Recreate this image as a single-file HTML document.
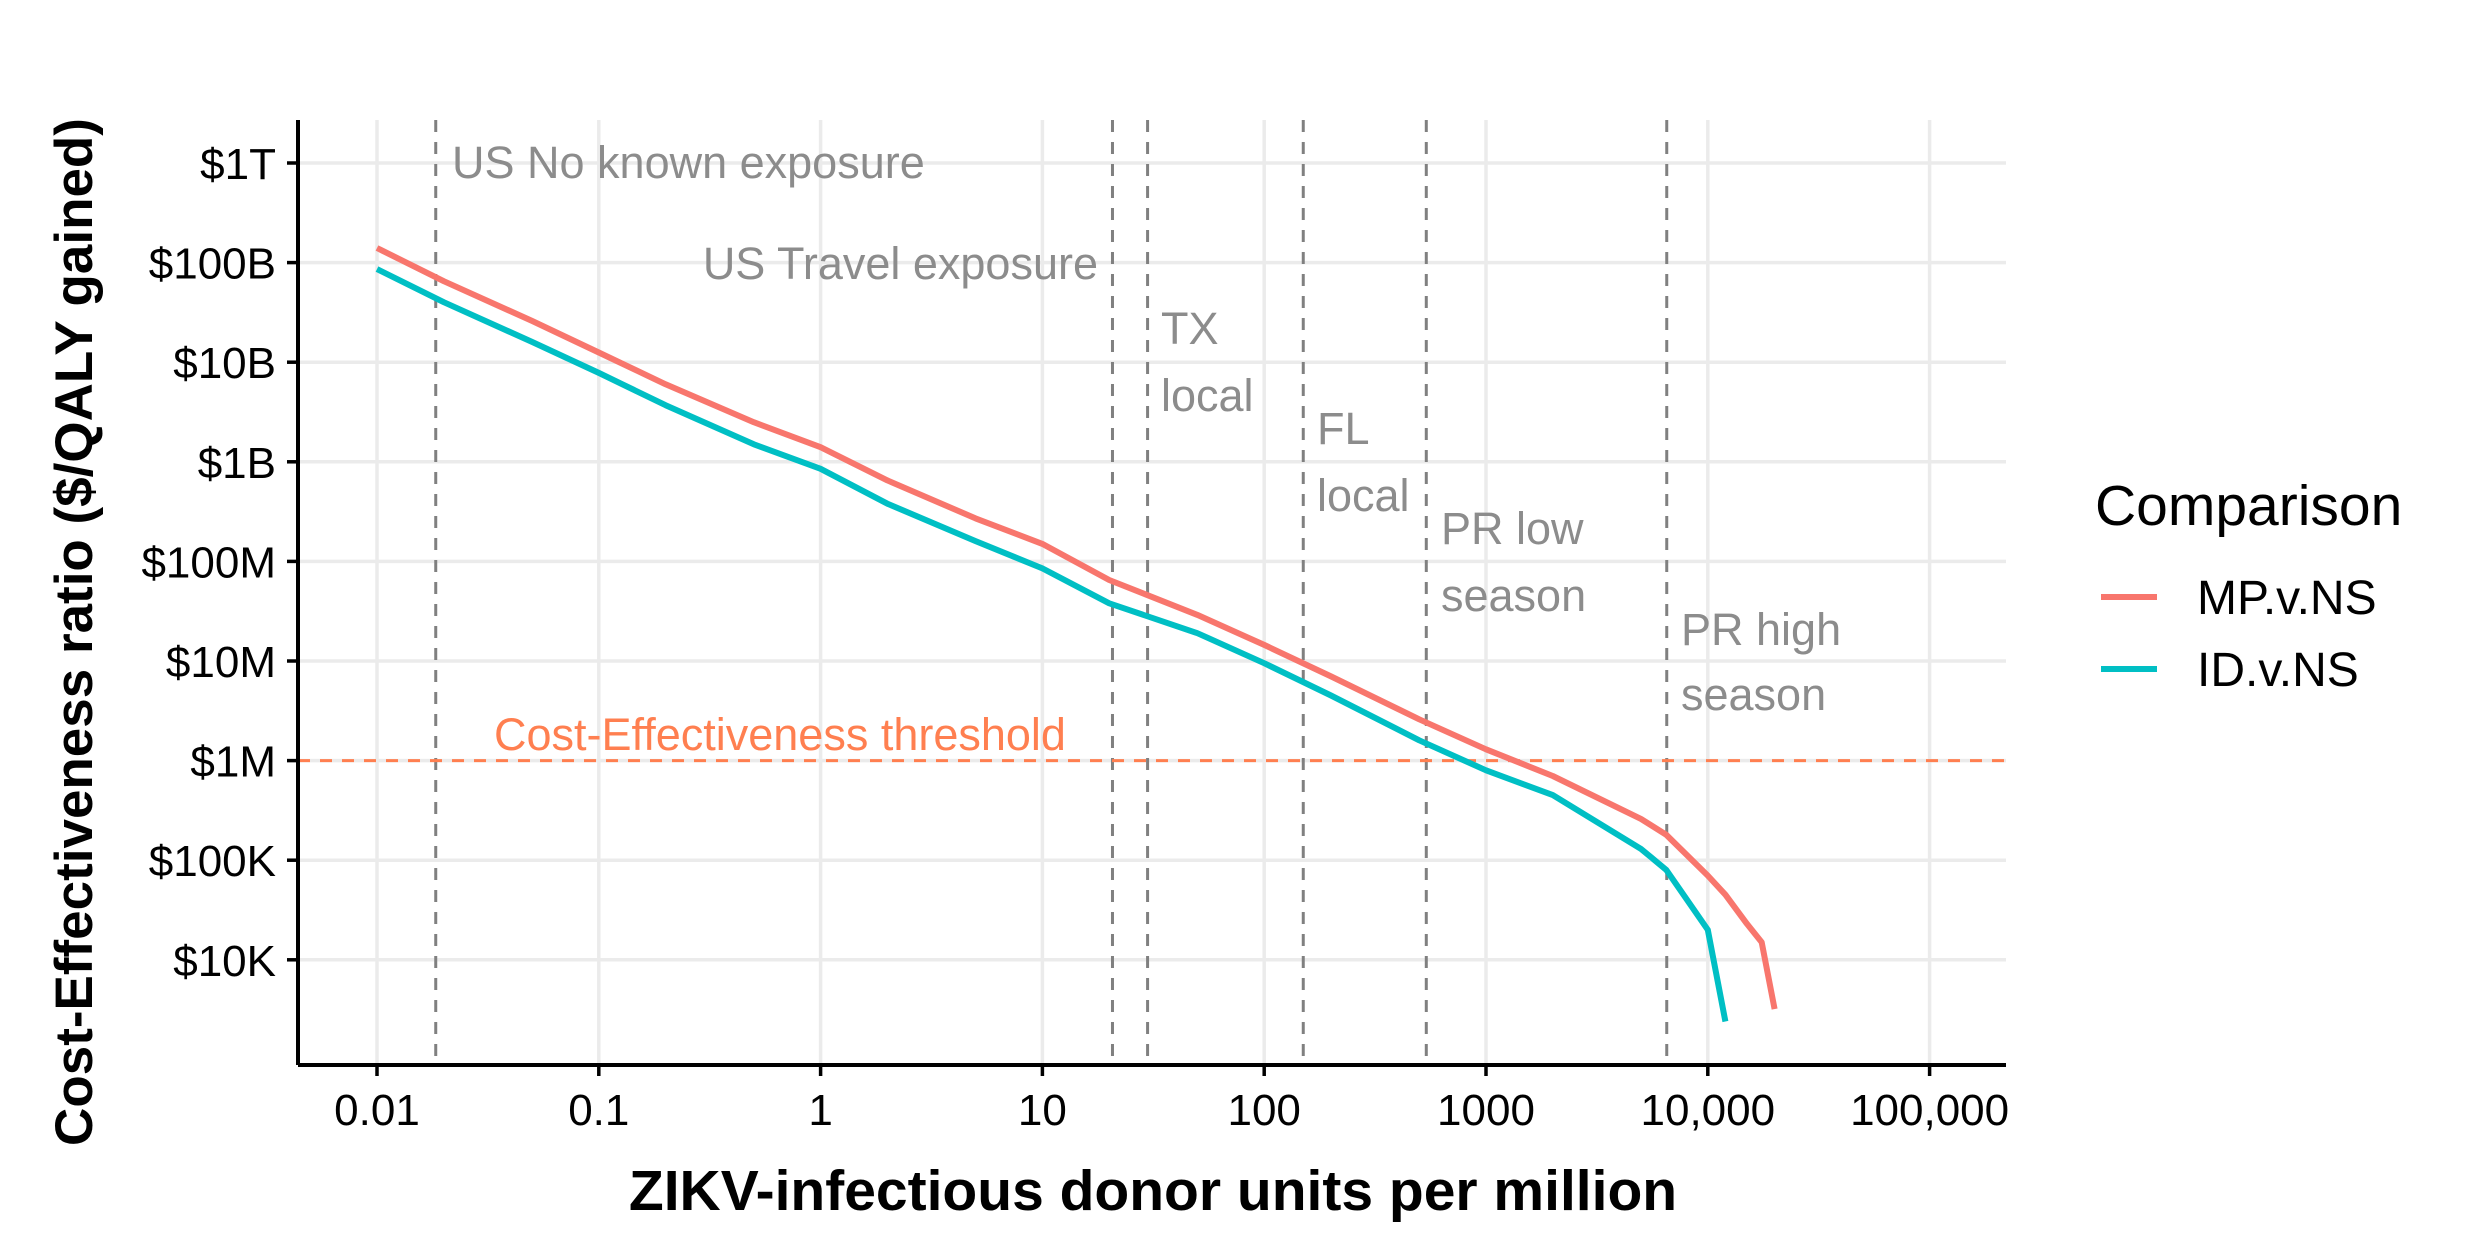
<!DOCTYPE html>
<html><head><meta charset="utf-8"><style>
html,body{margin:0;padding:0;background:#fff;}
svg{display:block;font-family:"Liberation Sans",Arial,sans-serif;}
</style></head><body>
<svg id="chart" width="2490" height="1260" viewBox="0 0 2490 1260" xmlns="http://www.w3.org/2000/svg">
<g id="grid"></g>
<g id="vlines"></g>
<g id="series"></g>
<g id="axes"></g>
<text x="1153" y="1210" font-size="57" font-weight="bold" text-anchor="middle">ZIKV-infectious donor units per million</text>
<text transform="translate(92,632) rotate(-90)" font-size="53" font-weight="bold" text-anchor="middle">Cost-Effectiveness ratio ($/QALY gained)</text>
<g>
<text x="2095" y="525" font-size="57">Comparison</text>
<line x1="2101" x2="2157" y1="597" y2="597" stroke="#F8766D" stroke-width="6"/>
<text x="2197" y="614" font-size="48">MP.v.NS</text>
<line x1="2101" x2="2157" y1="669" y2="669" stroke="#00BFC4" stroke-width="6"/>
<text x="2197" y="686" font-size="48">ID.v.NS</text>
</g>
</svg>
<script>
const xTicks=[0.01,0.1,1,10,100,1000,10000,100000];
const xTickLabels=["0.01","0.1","1","10","100","1000","10,000","100,000"];
const yTicks=[1e12,1e11,1e10,1e9,1e8,1e7,1e6,1e5,1e4];
const yTickLabels=["$1T","$100B","$10B","$1B","$100M","$10M","$1M","$100K","$10K"];
const scenarioX=[0.0184,20.7,29.8,150,538,6530];
const threshold=1e6;
const mpX=[0.01,0.02,0.05,0.1,0.2,0.5,1,2,5,10,20,50,100,200,500,1000,2000,5000,6500,10000,12000,15000,17500,20000];
const mpY=[1.4e11,6.5e10,2.6e10,1.25e10,6e9,2.5e9,1.4e9,6.5e8,2.7e8,1.5e8,6.5e7,2.9e7,1.45e7,7e6,2.6e6,1.3e6,7e5,2.6e5,1.8e5,7e4,4.5e4,2.3e4,1.5e4,3.2e3];
const idX=[0.01,0.02,0.05,0.1,0.2,0.5,1,2,5,10,20,50,100,200,500,1000,2000,5000,6500,10000,12000];
const idY=[8.6e10,4e10,1.6e10,7.8e9,3.7e9,1.5e9,8.5e8,3.8e8,1.6e8,8.5e7,3.8e7,1.9e7,9.5e6,4.5e6,1.6e6,8e5,4.5e5,1.3e5,8e4,2e4,2.4e3];
const NS="http://www.w3.org/2000/svg";
const L=298,R=2006,T=120,B=1065;
function sx(v){return 377+221.8*(Math.log10(v)+2);}
function sy(v){return 163+99.6*(12-Math.log10(v));}
function mk(tag,attrs,parent){const e=document.createElementNS(NS,tag);for(const k in attrs)e.setAttribute(k,attrs[k]);parent.appendChild(e);return e;}
const grid=document.getElementById('grid'),axes=document.getElementById('axes'),vl=document.getElementById('vlines'),ser=document.getElementById('series');
xTicks.forEach((t,i)=>{
 const g=mk('line',{x1:sx(t),x2:sx(t),y1:T,y2:B,stroke:'#ebebeb','stroke-width':3.5},grid);
 
 
 const tk=mk('line',{x1:sx(t),x2:sx(t),y1:B,y2:B+11,stroke:'#000','stroke-width':3.5},axes);
 
 
 const tx=mk('text',{x:sx(t),y:B+60,'font-size':44,'text-anchor':'middle'},axes);
 tx.textContent=xTickLabels[i];
 
 
});
yTicks.forEach((t,i)=>{
 const g=mk('line',{x1:L,x2:R,y1:sy(t),y2:sy(t),stroke:'#ebebeb','stroke-width':3.5},grid);
 
 
 const tk=mk('line',{x1:L-11,x2:L,y1:sy(t),y2:sy(t),stroke:'#000','stroke-width':3.5},axes);
 
 
 const tx=mk('text',{x:L-22,y:sy(t)+16,'font-size':44,'text-anchor':'end'},axes);
 tx.textContent=yTickLabels[i];
 
 
});
const xa=mk('line',{x1:L,x2:R,y1:B,y2:B,stroke:'#000','stroke-width':4},axes);


const ya=mk('line',{x1:L,x2:L,y1:T,y2:B,stroke:'#000','stroke-width':4},axes);


scenarioX.forEach(v=>{
 const l=mk('line',{x1:sx(v),x2:sx(v),y1:T,y2:B,stroke:'#808080','stroke-width':3,'stroke-dasharray':'12,10'},vl);
 
 
});
const th=mk('line',{x1:L,x2:R,y1:sy(threshold),y2:sy(threshold),stroke:'#FF7F50','stroke-width':3,'stroke-dasharray':'12,10'},vl);


const labels=[["US No known exposure",452,178,"start"],["US Travel exposure",1098,279,"end"],["TX",1161,344,"start"],["local",1161,411,"start"],["FL",1317,444,"start"],["local",1317,511,"start"],["PR low",1441,544,"start"],["season",1441,611,"start"],["PR high",1681,645,"start"],["season",1681,710,"start"]];
labels.forEach(a=>{
 const t=mk('text',{x:a[1],y:a[2],'font-size':45,fill:'#8c8c8c','text-anchor':a[3]},vl);
 t.textContent=a[0];
 
 
});
const tt=mk('text',{x:494,y:750,'font-size':45,fill:'#FF7F50'},vl);
tt.textContent="Cost-Effectiveness threshold";


function path(xs,ys){return xs.map((x,i)=>(i?'L':'M')+sx(x).toFixed(1)+','+sy(ys[i]).toFixed(1)).join(' ');}
const pm=mk('path',{d:path(mpX,mpY),fill:'none',stroke:'#F8766D','stroke-width':6,'stroke-linejoin':'round'},ser);


const pi=mk('path',{d:path(idX,idY),fill:'none',stroke:'#00BFC4','stroke-width':6,'stroke-linejoin':'round'},ser);


</script>
</body></html>
